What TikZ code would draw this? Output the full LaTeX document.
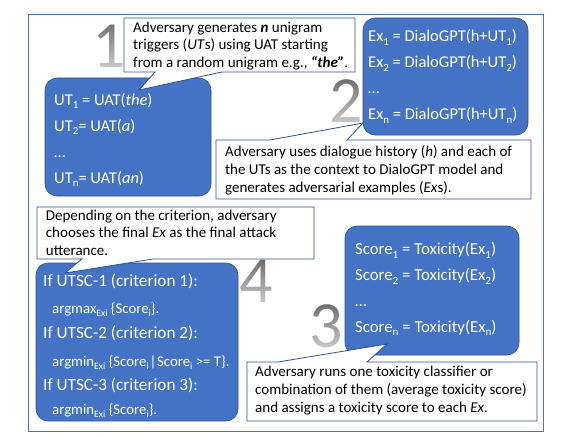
\documentclass[tikz,border=0pt]{standalone}
\usepackage{fontspec}
\usepackage{graphicx}
\usetikzlibrary{fadings}
\setmainfont{Carlito}
\definecolor{accent}{HTML}{4472C4}
\definecolor{edge}{HTML}{2F528F}
\definecolor{digit}{HTML}{6F6F6F}
\newcommand{\lo}[1]{\raisebox{-0.22em}{\scalebox{0.66}{#1}}}
\tikzfading[name=digitfade, top color=transparent!100, bottom color=transparent!35]
\tikzset{
  frame/.style={draw=accent, line width=1pt},
  bluebox/.style={fill=accent, draw=edge, line width=0.6pt, rounded corners=12pt},
  callout/.style={fill=white, draw=edge, line width=0.8pt, line join=miter},
  ctext/.style={anchor=base west, inner sep=0, align=left, font=\fontsize{15}{17.7}\selectfont},
  btext/.style={anchor=base west, inner sep=0, align=left, text=white, font=\fontsize{16.5}{26}\selectfont},
  crit/.style={anchor=base west, inner sep=0, text=white, font=\fontsize{17.2}{18}\selectfont},
  critsmall/.style={anchor=base west, inner sep=0, text=white, font=\fontsize{14.8}{15}\selectfont},
  bignum/.style={anchor=base, text=digit, inner sep=0, font=\fontsize{66}{66}\selectfont},
  numfade/.style={fill=white, path fading=digitfade},
}
\begin{document}
\begin{tikzpicture}[x=1pt,y=-1pt]
\useasboundingbox (0,0) rectangle (568,436);
\draw[frame] (28,14.5) rectangle (543,431);

% big step numbers, fading to light grey at the bottom
\node[bignum] (n1) at (109.5,67) {1};
\node[bignum] (n2) at (346.5,122) {2};
\node[bignum] (n4) at (256,302) {4};
\node[bignum] (n3) at (326,347) {3};
\fill[numfade] (95,22) rectangle (123,69);
\fill[numfade] (331,79) rectangle (361,124);
\fill[numfade] (240,260) rectangle (272,304);
\fill[numfade] (309,304) rectangle (343,349);

% blue boxes
\path[bluebox] (45,78) rectangle (211,196);
\path[bluebox] (363,18) rectangle (528,135);
\path[bluebox] (345,226) rectangle (519,355);
\path[bluebox] (36,263) rectangle (238,421);

\node[btext] (ut) at (54,183) {UT\lo{1} = UAT(\textit{the})\\UT\lo{2}= UAT(\textit{a})\\…\\UT\lo{n}= UAT(\textit{an})};
\node[btext] (ex) at (368,120) {Ex\lo{1} = DialoGPT(h+UT\lo{1})\\Ex\lo{2} = DialoGPT(h+UT\lo{2})\\…\\Ex\lo{n} = DialoGPT(h+UT\lo{n})};
\node[btext, font=\fontsize{16.8}{25.7}\selectfont] (sc) at (355,332) {Score\lo{1} = Toxicity(Ex\lo{1})\\Score\lo{2} = Toxicity(Ex\lo{2})\\…\\Score\lo{n} = Toxicity(Ex\lo{n})};

\node[crit] (c1) at (43,286.7) {If UTSC-1 (criterion 1):};
\node[critsmall] (c2) at (52,313) {argmax\lo{Exi} \{Score\lo{i}\}.};
\node[crit] (c3) at (43,338) {If UTSC-2 (criterion 2):};
\node[critsmall] (c4) at (52,366) {argmin\lo{Exi} \{Score\lo{i}\kern0.8pt|\kern0.8pt Score\lo{i} >= T\}.};
\node[crit] (c5) at (43,390) {If UTSC-3 (criterion 3):};
\node[critsmall] (c6) at (52,414) {argmin\lo{Exi} \{Score\lo{i}\}.};

% callouts
\draw[callout] (124,18) -- (355,18) -- (355,72) -- (222,72) -- (139,90) -- (155,72) -- (124,72) -- cycle;
\node[ctext] (t1) at (133,67.7) {Adversary generates \textbf{\textit{n}} unigram\\triggers (\textit{UT}s) using UAT starting\\from a random unigram e.g., \textbf{\textit{“the”}}.};

\draw[callout] (216,140) -- (270,140) -- (363,123) -- (347,140) -- (531,140) -- (531,199) -- (216,199) -- cycle;
\node[ctext] (t2) at (225,192) {Adversary uses dialogue history (\textit{h}) and each of\\the UTs as the context to DialoGPT model and\\generates adversarial examples (\textit{Ex}s).};

\draw[callout] (37,207) -- (314,207) -- (314,259) -- (153,259) -- (65,273) -- (82,259) -- (37,259) -- cycle;
\node[ctext] (t4) at (45.7,255.4) {Depending on the criterion, adversary\\chooses the final \textit{Ex} as the final attack\\utterance.};

\draw[callout] (247,362) -- (278,362) -- (387,344) -- (367,362) -- (537,362) -- (537,421) -- (247,421) -- cycle;
\node[ctext] (t3) at (255,412) {Adversary runs one toxicity classifier or\\combination of them (average toxicity score)\\and assigns a toxicity score to each \textit{Ex}.};
\end{tikzpicture}
\end{document}
